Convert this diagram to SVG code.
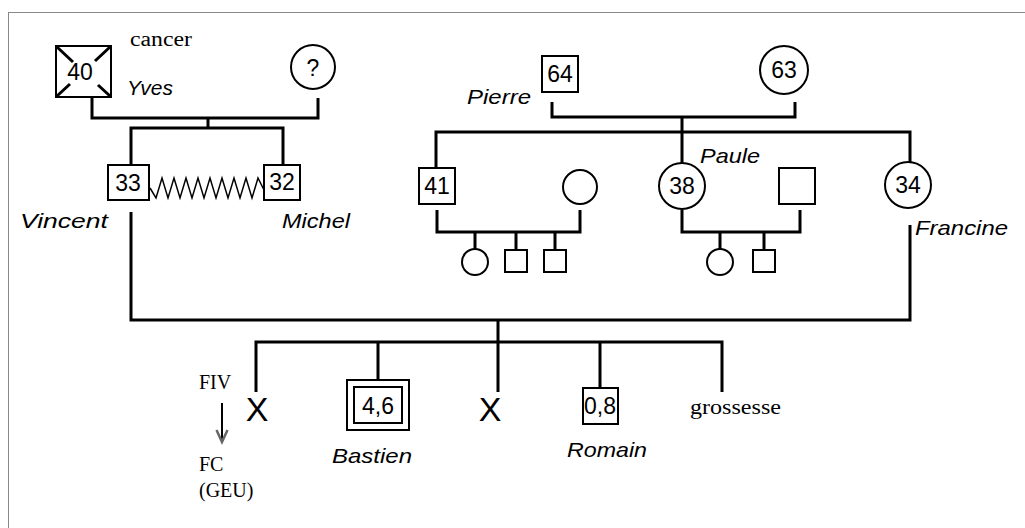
<svg xmlns="http://www.w3.org/2000/svg" width="1025" height="528" viewBox="0 0 1025 528">
<style>
.sans{font-family:"Liberation Sans",Arial,sans-serif;fill:#000}
.num{font-size:23px;text-anchor:middle}
.name{font-size:21px;font-style:italic}
.serif{font-family:"Liberation Serif","Times New Roman",serif;font-size:20px;fill:#000}
.box{fill:#fff;stroke:#000;stroke-width:2}
.ln{stroke:#000;stroke-width:3;fill:none}
</style>
<defs>
<marker id="v" markerWidth="16" markerHeight="16" refX="13" refY="7" orient="auto" markerUnits="userSpaceOnUse">
<path d="M1,1.5 L13,7 L1,12.5" fill="none" stroke="#666" stroke-width="2.5"/>
</marker>
</defs>
<rect x="8.5" y="12.5" width="1030" height="530" fill="none" stroke="#888" stroke-width="1"/>
<g id="connectors">
<path class="ln" d="M92,98 V118 H318 V98 M208,118 V128 M131,165 V128 H283 V165"/>
<path class="ln" d="M131,212 V320 H910 V225"/>
<path fill="none" stroke="#000" stroke-width="1.5" d="M150,188 L156,198 L162,178 L168,198 L174,178 L180,198 L186,178 L192,198 L198,178 L204,198 L210,178 L216,198 L222,178 L228,198 L234,178 L240,198 L246,178 L252,198 L258,178 L264,190"/>
<path class="ln" d="M552,102 V117 H795 V102 M682,117 V132 M436,168 V132 H910 V162 M682,132 V163"/>
<path class="ln" d="M437,210 V232 H580 V210 M475,232 V249 M516,232 V250 M555,232 V250"/>
<path class="ln" d="M682,210 V232 H800 V210 M720,232 V249 M764,232 V250"/>
<path class="ln" d="M498,320 V392 M256,392 V342 H722 V392 M378,342 V380 M600,342 V388"/>
<line x1="222" y1="403" x2="222" y2="442" stroke="#000" stroke-width="2" marker-end="url(#v)"/>
</g>
<g id="yves">
<rect class="box" x="56" y="46" width="55" height="51"/>
<path stroke="#000" stroke-width="3" d="M57,47 L73,62 M110,47 L95,61 M57,96 L70,84 M110,96 L98,85"/>
<text class="sans num" x="80" y="80">40</text>
<text class="serif" x="130" y="46" textLength="62" lengthAdjust="spacingAndGlyphs">cancer</text>
<text class="sans name" x="127" y="95">Yves</text>
</g>
<g id="unknown">
<circle cx="313" cy="67" r="22" fill="#fff" stroke="#000" stroke-width="2"/>
<text class="sans num" x="313" y="76" font-size="25">?</text>
</g>
<g id="vincent">
<rect class="box" x="108" y="165" width="41" height="35"/>
<text class="sans num" x="128" y="191">33</text>
<text class="sans name" x="20" y="228" textLength="88" lengthAdjust="spacingAndGlyphs">Vincent</text>
</g>
<g id="michel">
<rect class="box" x="264" y="165" width="36" height="35"/>
<text class="sans num" x="282" y="190">32</text>
<text class="sans name" x="282" y="228" textLength="68" lengthAdjust="spacingAndGlyphs">Michel</text>
</g>
<g id="pierre">
<rect class="box" x="542" y="56" width="36" height="36"/>
<text class="sans num" x="560" y="82">64</text>
<text class="sans name" x="467" y="104" textLength="64" lengthAdjust="spacingAndGlyphs">Pierre</text>
</g>
<g id="grandmother">
<circle cx="784" cy="70" r="24" fill="#fff" stroke="#000" stroke-width="2"/>
<text class="sans num" x="784" y="78">63</text>
</g>
<g id="uncle41">
<rect class="box" x="419" y="168" width="36" height="36"/>
<text class="sans num" x="437" y="194">41</text>
</g>
<g id="aunt-in-law">
<circle cx="580" cy="187" r="17" fill="#fff" stroke="#000" stroke-width="2"/>
</g>
<g id="paule">
<circle cx="682" cy="186" r="23" fill="#fff" stroke="#000" stroke-width="2"/>
<text class="sans num" x="682" y="194">38</text>
<text class="sans name" x="700" y="163" textLength="60" lengthAdjust="spacingAndGlyphs">Paule</text>
</g>
<g id="uncle-in-law">
<rect class="box" x="779" y="168" width="36" height="36"/>
</g>
<g id="francine">
<circle cx="908" cy="185" r="23" fill="#fff" stroke="#000" stroke-width="2"/>
<text class="sans num" x="908" y="193">34</text>
<text class="sans name" x="915" y="235" textLength="93" lengthAdjust="spacingAndGlyphs">Francine</text>
</g>
<g id="cousins1">
<circle cx="475" cy="262" r="13" fill="#fff" stroke="#000" stroke-width="2"/>
<rect class="box" x="505" y="250" width="22" height="22"/>
<rect class="box" x="544" y="250" width="22" height="22"/>
</g>
<g id="cousins2">
<circle cx="720" cy="262" r="13" fill="#fff" stroke="#000" stroke-width="2"/>
<rect class="box" x="753" y="250" width="22" height="22"/>
</g>
<g id="fiv">
<text class="sans" x="257" y="421" font-size="34" text-anchor="middle">X</text>
<text class="serif" x="199" y="389">FIV</text>
<text class="serif" x="199" y="471">FC</text>
<text class="serif" x="199" y="497">(GEU)</text>
</g>
<g id="bastien">
<rect class="box" x="347" y="380" width="62" height="50"/>
<rect class="box" x="354" y="387" width="48" height="36"/>
<text class="sans num" x="378" y="414">4,6</text>
<text class="sans name" x="332" y="463" textLength="80" lengthAdjust="spacingAndGlyphs">Bastien</text>
</g>
<g id="miscarriage">
<text class="sans" x="490" y="421" font-size="34" text-anchor="middle">X</text>
</g>
<g id="romain">
<rect class="box" x="583" y="388" width="35" height="36"/>
<text class="sans num" x="600" y="414">0,8</text>
<text class="sans name" x="567" y="457" textLength="80" lengthAdjust="spacingAndGlyphs">Romain</text>
</g>
<g id="pregnancy">
<text class="serif" x="690" y="414" textLength="91" lengthAdjust="spacingAndGlyphs">grossesse</text>
</g>
</svg>
